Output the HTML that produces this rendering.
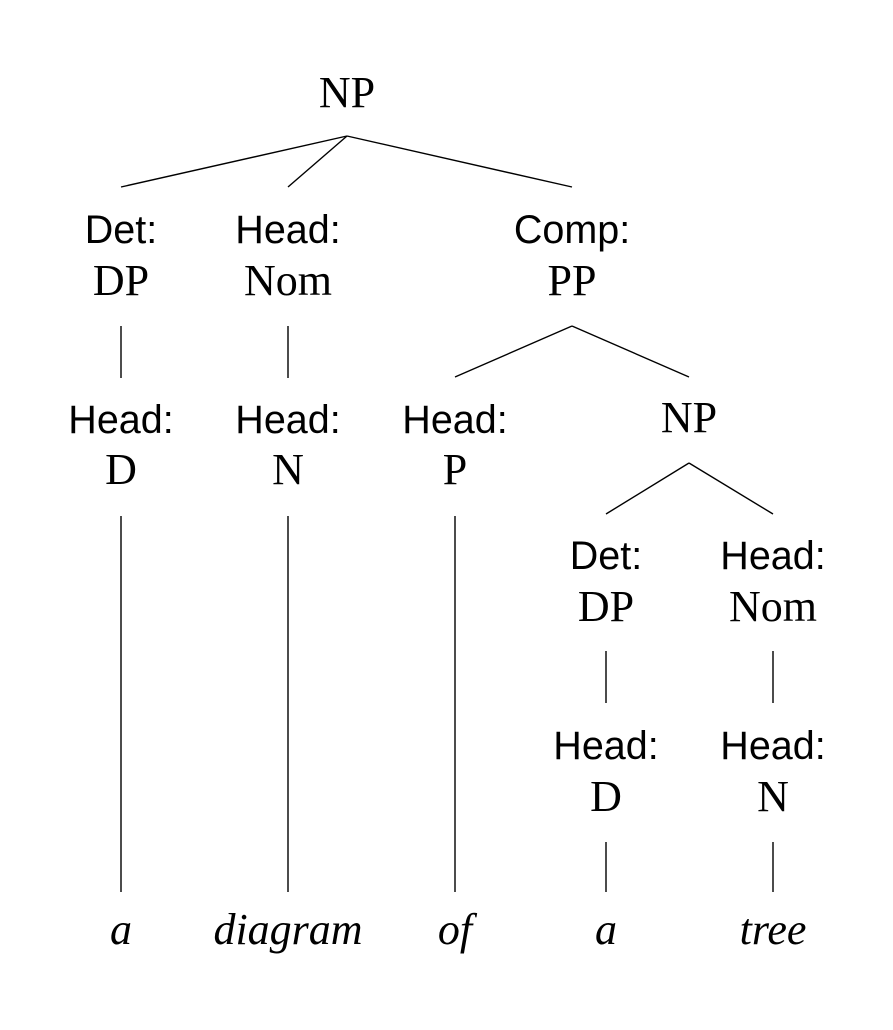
<!DOCTYPE html>
<html><head><meta charset="utf-8"><style>
html,body{margin:0;padding:0;background:#fff;}
svg{display:block;}
.s{font-family:"Liberation Sans",sans-serif;font-size:39.5px;text-anchor:middle;fill:#000;}
.r{font-family:"Liberation Serif",serif;font-size:44px;text-anchor:middle;fill:#000;}
.i{font-family:"Liberation Serif",serif;font-size:44px;font-style:italic;text-anchor:middle;fill:#000;}
line{stroke:#000;stroke-width:1.4;}
</style></head><body>
<svg width="893" height="1030" viewBox="0 0 893 1030">
<text class="r" x="347" y="107">NP</text>
<line x1="347" y1="136" x2="121" y2="187"/>
<line x1="347" y1="136" x2="288" y2="187"/>
<line x1="347" y1="136" x2="572" y2="187"/>

<text class="s" x="121" y="243">Det:</text>
<text class="r" x="121" y="295">DP</text>
<text class="s" x="288" y="243">Head:</text>
<text class="r" x="288" y="295">Nom</text>
<text class="s" x="572" y="243">Comp:</text>
<text class="r" x="572" y="295">PP</text>

<line x1="121" y1="326" x2="121" y2="378"/>
<line x1="288" y1="326" x2="288" y2="378"/>
<line x1="572" y1="326" x2="455" y2="377"/>
<line x1="572" y1="326" x2="689" y2="377"/>

<text class="s" x="121" y="433">Head:</text>
<text class="r" x="121" y="484">D</text>
<text class="s" x="288" y="433">Head:</text>
<text class="r" x="288" y="484">N</text>
<text class="s" x="455" y="433">Head:</text>
<text class="r" x="455" y="484">P</text>
<text class="r" x="689" y="432">NP</text>

<line x1="121" y1="516" x2="121" y2="892"/>
<line x1="288" y1="516" x2="288" y2="892"/>
<line x1="455" y1="516" x2="455" y2="892"/>
<line x1="689" y1="463" x2="606" y2="514"/>
<line x1="689" y1="463" x2="773" y2="514"/>

<text class="s" x="606" y="569">Det:</text>
<text class="r" x="606" y="621">DP</text>
<text class="s" x="773" y="569">Head:</text>
<text class="r" x="773" y="621">Nom</text>

<line x1="606" y1="651" x2="606" y2="703"/>
<line x1="773" y1="651" x2="773" y2="703"/>

<text class="s" x="606" y="759">Head:</text>
<text class="r" x="606" y="811">D</text>
<text class="s" x="773" y="759">Head:</text>
<text class="r" x="773" y="811">N</text>

<line x1="606" y1="842" x2="606" y2="892"/>
<line x1="773" y1="842" x2="773" y2="892"/>

<text class="i" x="121" y="944">a</text>
<text class="i" x="288" y="944">diagram</text>
<text class="i" x="455" y="944">of</text>
<text class="i" x="606" y="944">a</text>
<text class="i" x="773" y="944">tree</text>
</svg>
</body></html>
